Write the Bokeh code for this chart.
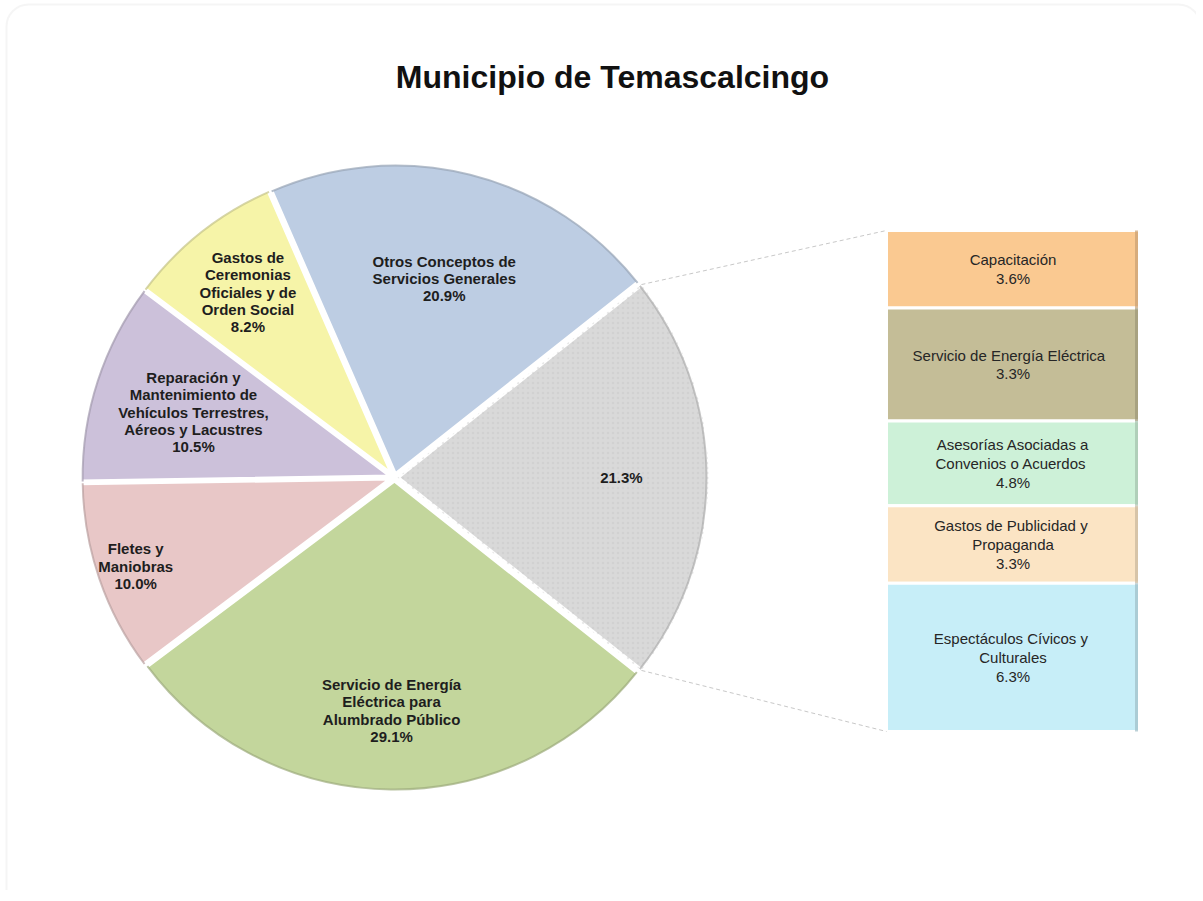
import math
import numpy as np
from bokeh.plotting import figure
from bokeh.models import Range1d, BoxAnnotation, ColumnDataSource
from bokeh.core.properties import value
from bokeh.embed import file_html
from bokeh.resources import INLINE

# ---------------- data ----------------
title_text = "Municipio de Temascalcingo"

pie_names = [
    "Otros Conceptos de\nServicios Generales",
    "Gastos de\nCeremonias\nOficiales y de\nOrden Social",
    "Reparación y\nMantenimiento de\nVehículos Terrestres,\nAéreos y Lacustres",
    "Fletes y\nManiobras",
    "Servicio de Energía\nEléctrica para\nAlumbrado Público",
    "",  # grouped slice (detailed in the bar)
]
pie_values = [20.9, 8.2, 10.5, 10.0, 29.1, 21.3]
pie_colors = ["#BDCDE3", "#F6F4A8", "#CCC1DA", "#E8C7C7", "#C3D69C", "#D9D9D9"]

bar_names = [
    "Capacitación",
    "Servicio  de Energía  Eléctrica",
    "Asesorías Asociadas a\nConvenios  o Acuerdos",
    "Gastos de Publicidad  y\nPropaganda",
    "Espectáculos Cívicos  y\nCulturales",
]
bar_label_values = [3.6, 3.3, 4.8, 3.3, 6.3]      # percentages printed on the segments
bar_sizes = [3.3, 4.8, 3.6, 3.3, 6.3]             # segment heights as drawn in the picture
bar_colors = ["#FAC991", "#C4BD97", "#CDF1D8", "#FBE4C4", "#C7EEF8"]

# ---------------- layout constants ----------------
W, H = 1196, 890
ORG_X, ORG_Y = 1, 2            # where the canvas lands in the screenshot
TOP = ORG_Y + H                # page y of data y = 0


def px(xp):
    return xp - ORG_X


def py(yp):
    return TOP - yp


CX, CY = px(395), py(479)     # pie centre
R = 311                       # pie radius
EXPLODE = 3
LABEL_RADIUS_FRAC = [0.65, 0.75, 0.67, 0.87, 0.74, 0.72]
BAR_LEFT, BAR_RIGHT = px(887), px(1140)
BAR_BOTTOM_PX, BAR_TOP_PX = py(733), py(232)


def darker(hexcol, f=0.75):
    hexcol = hexcol.lstrip("#")
    r, g, b = (int(hexcol[i:i + 2], 16) for i in (0, 2, 4))
    return "#%02x%02x%02x" % (int(r * f), int(g * f), int(b * f))


p = figure(width=W, height=H, x_range=Range1d(0, W), y_range=Range1d(0, H),
           output_backend="svg", toolbar_location=None,
           x_axis_location=None, y_axis_location=None, min_border=0)
p.grid.visible = False
p.outline_line_color = None
p.background_fill_color = "white"
p.border_fill_color = "white"

# card border (bottom / right edges run off the page, as in the reference)
p.add_layout(BoxAnnotation(left=px(7), right=px(1201), bottom=-40, top=py(6),
                           fill_color=None, line_color="#DEDEDE", line_width=2,
                           border_radius=22))

# ---------------- pie ----------------
total = sum(pie_values)
start0 = math.radians(pie_values[-1] / total * 360 / 2)
spans = [v / total * 2 * math.pi for v in pie_values]
starts, ends = [], []
a = start0
for s in spans:
    starts.append(a)
    ends.append(a + s)
    a += s
mids = [(s + e) / 2 for s, e in zip(starts, ends)]
xs = [CX + EXPLODE * math.cos(m) for m in mids]
ys = [CY + EXPLODE * math.sin(m) for m in mids]

src = ColumnDataSource(dict(x=xs, y=ys, start=starts, end=ends, color=pie_colors,
                            rim=[darker(c, 0.8) for c in pie_colors]))
p.wedge(x="x", y="y", radius=R, start_angle="start", end_angle="end",
        fill_color="color", line_color="white", line_width=4, source=src)
# grouped slice texture
p.wedge(x=[xs[-1]], y=[ys[-1]], radius=R, start_angle=[starts[-1]], end_angle=[ends[-1]],
        fill_color=None, line_color=None, hatch_pattern="dot", hatch_color="#C4C4C4",
        hatch_scale=5, hatch_alpha=0.35)
# outer rim shading
p.arc(x="x", y="y", radius=R - 2, start_angle="start", end_angle="end",
      line_color="rim", line_width=2, line_alpha=0.7, source=src)

# pie labels
lx = [x + f * R * math.cos(m) for x, f, m in zip(xs, LABEL_RADIUS_FRAC, mids)]
ly = [y + f * R * math.sin(m) for y, f, m in zip(ys, LABEL_RADIUS_FRAC, mids)]
ltxt = [(n + "\n" if n else "") + f"{v:.1f}%" for n, v in zip(pie_names, pie_values)]
p.text(x=lx, y=ly, text=ltxt, text_align="center", text_baseline="middle",
       text_font=value("Liberation Sans"), text_font_style="bold",
       text_font_size="15px", text_color="#1E1E1E", text_line_height=1.02)

# ---------------- bar of "other" ----------------
bar_total = sum(bar_sizes)
px_per_unit = (BAR_TOP_PX - BAR_BOTTOM_PX) / bar_total
p.extra_y_ranges = {"bar": Range1d(-BAR_BOTTOM_PX / px_per_unit,
                                   (H - BAR_BOTTOM_PX) / px_per_unit)}
tops = list(bar_total - np.cumsum([0] + bar_sizes[:-1]))
bottoms = [t - s for t, s in zip(tops, bar_sizes)]
bsrc = ColumnDataSource(dict(top=tops, bottom=bottoms, color=bar_colors,
                             edge=[darker(c, 0.8) for c in bar_colors],
                             mid=[(t + b) / 2 for t, b in zip(tops, bottoms)],
                             label=[n + "\n" + f"{v:.1f}%" for n, v in zip(bar_names, bar_label_values)]))
p.quad(left=BAR_LEFT, right=BAR_RIGHT, top="top", bottom="bottom", fill_color="color",
       line_color="white", line_width=3, y_range_name="bar", source=bsrc)
# bevel: darker right edge
p.segment(x0=BAR_RIGHT - 3, x1=BAR_RIGHT - 3, y0="bottom", y1="top", line_color="edge",
          line_width=3, line_alpha=0.7, y_range_name="bar", source=bsrc)
p.text(x=(BAR_LEFT + BAR_RIGHT) / 2, y="mid", text="label", text_align="center",
       text_baseline="middle", text_font=value("Liberation Sans"), text_font_size="15px",
       text_color="#262626", text_line_height=1.1, y_range_name="bar", source=bsrc)

# connector lines from the grouped slice to the bar
gx, gy = xs[-1], ys[-1]
c_top = (gx + R * math.cos(ends[-1]), gy + R * math.sin(ends[-1]))
c_bot = (gx + R * math.cos(starts[-1]), gy + R * math.sin(starts[-1]))
p.segment(x0=[c_top[0], c_bot[0]], y0=[c_top[1], c_bot[1]],
          x1=[BAR_LEFT, BAR_LEFT], y1=[BAR_TOP_PX, BAR_BOTTOM_PX],
          line_color="#C8C8C8", line_width=1, line_dash="4 3")

# title
p.text(x=[px(613)], y=[py(78)], text=[title_text], text_align="center",
       text_baseline="middle", text_font=value("Liberation Sans"), text_font_style="bold",
       text_font_size="32px", text_color="#111111")

open("out.html", "w").write(file_html(p, INLINE))
